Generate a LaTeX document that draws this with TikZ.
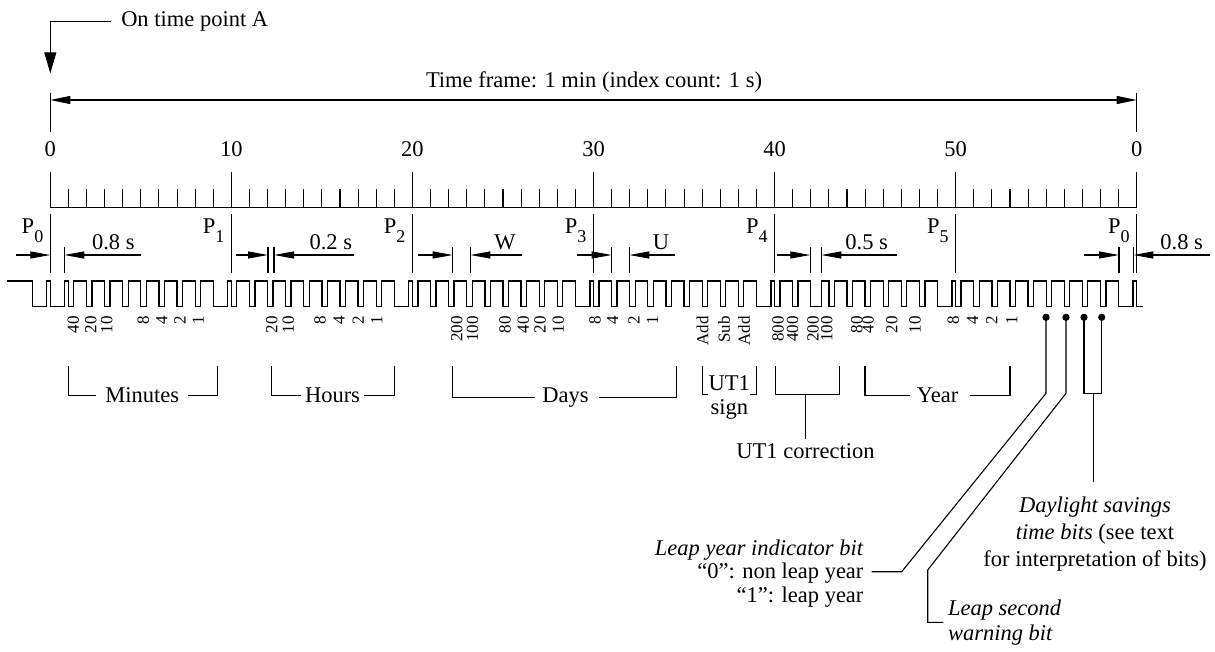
\documentclass[tikz,border=0pt]{standalone}
\usepackage{fontspec}
\setmainfont{Liberation Serif}
\usetikzlibrary{arrows.meta}
\newcommand\SX{18.107}
\newcommand\XO{50.3}
\newcommand\YH{281}
\newcommand\YL{306.7}
\newcommand\Pk[1]{P\raisebox{-9.5pt}{\fontsize{18}{18}\selectfont #1}}
\tikzset{
  dimtip/.style={-{Triangle[length=20pt,width=7pt]}},
  frametip/.style={{Triangle[length=20pt,width=8pt]}-{Triangle[length=20pt,width=8pt]}},
  toptip/.style={-{Triangle[length=21pt,width=12pt]}},
  bitlbl/.style={rotate=90,anchor=east,inner sep=0pt,font=\fontsize{17}{17}\selectfont},
  lbl/.style={inner sep=0pt},
  wave/.style={line width=1.3pt,line join=miter},
}
\begin{document}
\begin{tikzpicture}[x=1pt,y=-1pt,font=\fontsize{22.5}{26}\selectfont,line width=1.1pt]
\useasboundingbox (0,0) rectangle (1215,652);

% top annotation
\node[lbl,anchor=base west] (ontime) at (120.7,26.5) {On time point A};
\coordinate (tipA) at (\XO,73.3);
\draw[toptip] ([xshift=-10pt]ontime.west) -| (tipA);

% time frame
\coordinate (tfL) at (\XO,100);
\coordinate (tfR) at (1136.7,100);
\draw (\XO,92.7) -- (\XO,132);
\draw (1136.7,92.7) -- (1136.7,132);
\draw[frametip] (tfL) -- (tfR);
\node[lbl,anchor=base] (tframe) at (594,88) {Time frame: 1 min (index count: 1 s)};

% scale numbers
\foreach \k/\l in {0/0,1/10,2/20,3/30,4/40,5/50,6/0}
  \node[lbl,anchor=base] (num\k) at ({\XO+\k*10*\SX},156.5) {\l};

% ruler
\draw (\XO,207.3) -- (1136.7,207.3);
\foreach \k in {1,...,59}
  \draw ({\XO+\k*\SX},189.3) -- ({\XO+\k*\SX},207.3);
\foreach \k in {0,...,6}
  \draw ({\XO+\k*10*\SX},171.7) -- ({\XO+\k*10*\SX},207.3);

% position marker lines and labels
\foreach \k/\l in {0/0,1/1,2/2,3/3,4/4,5/5,6/0}{
  \draw ({\XO+\k*10*\SX},214.5) -- ({\XO+\k*10*\SX},273);
  \node[lbl,anchor=base east] (P\k) at ({\XO+\k*10*\SX-6.5},233.3) {\Pk{\l}};
}

% dimension: 0.8 s (left)
\draw (64.3,247) -- (64.3,273);
\draw[dimtip] (15.7,255) -- (\XO,255);
\draw[dimtip] (141,255) -- (64.3,255);
\node[lbl,anchor=base] (d08a) at (113.3,250) {0.8 s};
% 0.2 s
\draw (268,247) -- (268,273);
\draw (274,247) -- (274,273);
\draw[dimtip] (235.7,255) -- (268,255);
\draw[dimtip] (354.3,255) -- (274,255);
\node[lbl,anchor=base] (d02) at (330.8,250) {0.2 s};
% W
\draw (452.7,247) -- (452.7,273);
\draw (470.3,247) -- (470.3,273);
\draw[dimtip] (418.3,255) -- (452.7,255);
\draw[dimtip] (521.7,255) -- (470.3,255);
\node[lbl,anchor=base] (dW) at (505,250) {W};
% U
\draw (611.7,247) -- (611.7,273);
\draw (629.3,247) -- (629.3,273);
\draw[dimtip] (576.7,255) -- (611.7,255);
\draw[dimtip] (675,255) -- (629.3,255);
\node[lbl,anchor=base] (dU) at (661,250) {U};
% 0.5 s
\draw (810.3,247) -- (810.3,273);
\draw (821.3,247) -- (821.3,273);
\draw[dimtip] (776.7,255) -- (810.3,255);
\draw[dimtip] (896.7,255) -- (821.3,255);
\node[lbl,anchor=base] (d05) at (866.7,250) {0.5 s};
% 0.8 s (right)
\draw (1119,247) -- (1119,273);
\draw (1133.3,247) -- (1133.3,273);
\draw[dimtip] (1084.3,255) -- (1119,255);
\draw[dimtip] (1210,255) -- (1133.3,255);
\node[lbl,anchor=base] (d08b) at (1181.7,250) {0.8 s};

% waveform
\draw[wave] (7,\YH)
  foreach \w [count=\i] in {0.8,0.8,
     0.3,0.3,0.3,0.3,0.3,0.3,0.3,0.3, 0.8,
     0.3,0.3,0.3,0.3,0.3,0.3,0.3,0.3,0.3, 0.8,
     0.3,0.3,0.3,0.3,0.3,0.3,0.3,0.3,0.3, 0.8,
     0.3,0.3,0.3,0.3,0.3,0.3,0.3,0.3,0.3, 0.8,
     0.3,0.3,0.6,0.3,0.3,0.3,0.3,0.3,0.3, 0.8,
     0.3,0.3,0.3,0.3,0.3,0.3,0.3,0.3,0.3, 0.8}
  { -- ({\XO+(\i-2)*\SX},\YH) -- ({\XO+(\i-2)*\SX},\YL)
    -- ({\XO+(\i-2+\w)*\SX},\YL) -- ({\XO+(\i-2+\w)*\SX},\YH) }
  -- ({\XO+60*\SX},\YH) -- ({\XO+60*\SX},\YL) -- (1143,\YL);

% bit labels
\foreach \x/\t [count=\n] in {73.3/40,90.8/20,106.7/10,143.3/8,161.7/4,180/2,198.3/1,
   271.7/20,288.3/10,320/8,339/4,358.3/2,376.7/1,
   456.7/200,472.5/100,505/80,523.3/40,540/20,558.3/10,595/8,612.5/4,634/2,652.5/1,
   702.5/Add,724/Sub,744/Add,
   778/800,792.5/400,813/200,826.7/100,
   856.7/80,868/40,891.7/20,915/10,953.3/8,972.5/4,991.7/2,1011.7/1}
  \node[bitlbl] (b\n) at (\x,315.5) {\t};

% group brackets
\node[lbl,anchor=base] (minutes) at (142.2,402.5) {Minutes};
\draw ([xshift=-9pt]minutes.west) -| (68.3,366);
\draw ([xshift=8.5pt]minutes.east) -| (217.7,366);
\node[lbl,anchor=base] (hours) at (332.5,402.5) {Hours};
\draw ([xshift=-3.5pt]hours.west) -| (271.7,366);
\draw ([xshift=3.5pt]hours.east) -| (394.3,366);
\node[lbl,anchor=base] (days) at (565.5,402.5) {Days};
\draw ([xshift=-6.5pt]days.west) -| (452.3,366);
\draw ([xshift=10pt]days.east) -| (676.7,366);
\node[lbl,anchor=base] (year) at (937.5,402.5) {Year};
\draw ([xshift=-6.5pt]year.west) -| (865,366);
\draw ([xshift=11.5pt]year.east) -| (1010,366);

% UT1 sign
\node[lbl,anchor=base] (ut1) at (729.3,390) {UT1};
\node[lbl,anchor=base] (sign) at (729.3,414) {sign};
\draw (708,394.8) -| (702.7,366);
\draw (750,394.8) -| (756.7,366);

% UT1 correction
\node[lbl,anchor=base] (utc) at (805.5,458) {UT1 correction};
\coordinate (utcTop) at (805.7,438.5);
\draw (775.3,366) |- (839.3,394.8) -- (839.3,366);
\draw (805.7,394.8) -- (utcTop);

% dots
\foreach \x [count=\n] in {1046,1066,1084,1101.7}{
  \fill (\x,317.3) circle (3.6);
  \coordinate (dot\n) at (\x,317.3);
}

% leap year indicator (base = last line)
\node[lbl,anchor=base east,align=right,font=\fontsize{22.5}{23.5}\selectfont] (leapyr) at (864,602)
  {\textit{Leap year indicator bit}\\“0”: non leap year\\“1”: leap year};
\draw (dot1) -- (1046,393.3) -- (901.7,571.7) -- (871.7,571.7);

% leap second
\node[lbl,anchor=base west,align=left,font=\fontsize{22.5}{25}\selectfont] (leapsec) at (947.5,640)
  {\textit{Leap second}\\\textit{warning bit}};
\draw (dot2) -- (1066,393.3) -- (927.7,570) -- (927.7,622.3) -- (943.3,622.3);

% DST
\node[lbl,anchor=base,align=center,font=\fontsize{22.5}{27}\selectfont] (dst) at (1095,566)
  {\textit{Daylight savings}\\\textit{time bits} (see text\\for interpretation of bits)};
\draw (dot3) -- (1084,393.3) -- (1101.7,393.3) -- (dot4);
\draw (1093.3,393.3) -- (1093.3,481.7);

\end{tikzpicture}
\end{document}
